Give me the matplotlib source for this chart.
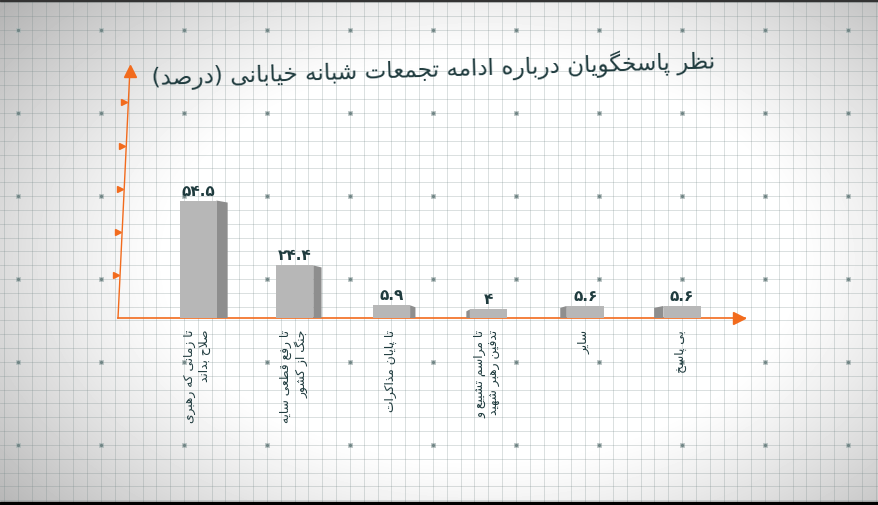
import numpy as np
import matplotlib
matplotlib.use('Agg')
import matplotlib.pyplot as plt
from matplotlib.patches import Polygon, Rectangle

plt.rcParams['font.family'] = ['DejaVu Sans']

title = 'نظر پاسخگویان درباره ادامه تجمعات شبانه خیابانی (درصد)'
categories = [
    'تا زمانی که رهبری\nصلاح بداند',
    'تا رفع قطعی سایه\nجنگ از کشور',
    'تا پایان مذاکرات',
    'تا مراسم تشییع و\nتدفین رهبر شهید',
    'سایر',
    'بی پاسخ',
]
values = [54.5, 24.4, 5.9, 4, 5.6, 5.6]
y_ticks = [20, 40, 60, 80, 100]

# --- simple persian shaping (matplotlib 3.10 has no rtl / joining) ---
FORMS = {
    'ء': (0xFE80, None, None, None),
    'آ': (0xFE81, 0xFE82, None, None),
    'ا': (0xFE8D, 0xFE8E, None, None),
    'ب': (0xFE8F, 0xFE90, 0xFE91, 0xFE92),
    'پ': (0xFB56, 0xFB57, 0xFB58, 0xFB59),
    'ت': (0xFE95, 0xFE96, 0xFE97, 0xFE98),
    'ث': (0xFE99, 0xFE9A, 0xFE9B, 0xFE9C),
    'ج': (0xFE9D, 0xFE9E, 0xFE9F, 0xFEA0),
    'چ': (0xFB7A, 0xFB7B, 0xFB7C, 0xFB7D),
    'ح': (0xFEA1, 0xFEA2, 0xFEA3, 0xFEA4),
    'خ': (0xFEA5, 0xFEA6, 0xFEA7, 0xFEA8),
    'د': (0xFEA9, 0xFEAA, None, None),
    'ذ': (0xFEAB, 0xFEAC, None, None),
    'ر': (0xFEAD, 0xFEAE, None, None),
    'ز': (0xFEAF, 0xFEB0, None, None),
    'ژ': (0xFB8A, 0xFB8B, None, None),
    'س': (0xFEB1, 0xFEB2, 0xFEB3, 0xFEB4),
    'ش': (0xFEB5, 0xFEB6, 0xFEB7, 0xFEB8),
    'ص': (0xFEB9, 0xFEBA, 0xFEBB, 0xFEBC),
    'ض': (0xFEBD, 0xFEBE, 0xFEBF, 0xFEC0),
    'ط': (0xFEC1, 0xFEC2, 0xFEC3, 0xFEC4),
    'ظ': (0xFEC5, 0xFEC6, 0xFEC7, 0xFEC8),
    'ع': (0xFEC9, 0xFECA, 0xFECB, 0xFECC),
    'غ': (0xFECD, 0xFECE, 0xFECF, 0xFED0),
    'ف': (0xFED1, 0xFED2, 0xFED3, 0xFED4),
    'ق': (0xFED5, 0xFED6, 0xFED7, 0xFED8),
    'ک': (0xFB8E, 0xFB8F, 0xFB90, 0xFB91),
    'گ': (0xFB92, 0xFB93, 0xFB94, 0xFB95),
    'ل': (0xFEDD, 0xFEDE, 0xFEDF, 0xFEE0),
    'م': (0xFEE1, 0xFEE2, 0xFEE3, 0xFEE4),
    'ن': (0xFEE5, 0xFEE6, 0xFEE7, 0xFEE8),
    'و': (0xFEED, 0xFEEE, None, None),
    'ه': (0xFEE9, 0xFEEA, 0xFEEB, 0xFEEC),
    'ی': (0xFBFC, 0xFBFD, 0xFBFE, 0xFBFF),
}
MIRROR = {'(': ')', ')': '('}


def shape_line(s):
    out = []
    i = 0
    n = len(s)
    while i < n:
        c = s[i]
        if c not in FORMS:
            out.append(MIRROR.get(c, c))
            i += 1
            continue
        prev = s[i - 1] if i > 0 else ''
        joins_prev = prev in FORMS and FORMS[prev][2] is not None
        if c == 'ل' and i + 1 < n and s[i + 1] == 'ا':
            out.append(chr(0xFEFC if joins_prev else 0xFEFB))
            i += 2
            continue
        nxt = s[i + 1] if i + 1 < n else ''
        joins_next = nxt in FORMS and FORMS[c][2] is not None
        iso, fin, ini, med = FORMS[c]
        if joins_prev and joins_next:
            code = med
        elif joins_prev:
            code = fin
        elif joins_next:
            code = ini
        else:
            code = iso
        out.append(chr(code))
        i += 1
    return ''.join(reversed(out))


def fa(s):
    return '\n'.join(shape_line(line) for line in s.split('\n'))


def fa_num(v):
    return f'{v:g}'.translate(str.maketrans('0123456789', '۰۱۲۳۴۵۶۷۸۹'))


W, H = 879, 505
fig = plt.figure(figsize=(W / 100, H / 100), dpi=100)

# background: vignette + grid paper
bg = fig.add_axes([0, 0, 1, 1])
bg.set_xlim(0, W)
bg.set_ylim(H, 0)
bg.axis('off')
xx, yy = np.meshgrid(np.arange(W), np.arange(H))
d = np.sqrt(((xx - 480) / 520.0) ** 2 + ((yy - 260) / 330.0) ** 2)
shade = 1 - 0.55 * np.clip(d - 0.6, 0, 1) ** 1.2
bg.imshow(shade, cmap='gray', vmin=0, vmax=1, extent=(0, W, H, 0),
          aspect='auto', zorder=0)
step = 83 / 6.0
for gx in np.arange(18 - 2 * step, W, step):
    bg.axvline(gx, color='#748686', lw=0.6, alpha=0.3, zorder=1)
for gy in np.arange(30 - 2 * step, H, step):
    bg.axhline(gy, color='#748686', lw=0.6, alpha=0.3, zorder=1)
mx, my = np.meshgrid(np.arange(18, W, 83), np.arange(30, H, 83))
bg.scatter(mx.ravel(), my.ravel(), s=10, marker='s', facecolor='none',
           edgecolor='#a8b4b4', lw=0.5, zorder=2)
bg.scatter(mx.ravel(), my.ravel(), s=2, color='#6f8484', zorder=2)
bg.add_patch(Rectangle((0, 502), W, 3, color='black', zorder=3))
bg.add_patch(Rectangle((0, 0), W, 1, color='#333333', zorder=3))

# chart area (pixel box: x 118..745, y 68..318)
x0_px, x1_px, base_px, top_px = 118, 745, 318, 68
ax = fig.add_axes([x0_px / W, (H - base_px) / H,
                   (x1_px - x0_px) / W, (base_px - top_px) / H])
ax.patch.set_alpha(0)
px_per_cat = 96.8
first_px = 198
ax.set_xlim((x0_px - first_px) / px_per_cat, (x1_px - first_px) / px_per_cat)
ax.set_ylim(0, 116)
ax.axis('off')

orange = '#f26b1d'
ink = '#1f3b3e'
px_x = 1 / px_per_cat
px_y = 116 / (base_px - top_px)

# axes lines (y axis slightly tilted, as in the picture)
tilt = 12 / (x1_px - x0_px)
ax.plot([0, 1], [0, 0], transform=ax.transAxes, color=orange, lw=1.2,
        clip_on=False, zorder=3)
ax.plot([0, tilt], [0, 1], transform=ax.transAxes, color=orange, lw=1.0,
        clip_on=False, zorder=3)
ax.plot([0.99], [0], marker='>', ms=9, color=orange, transform=ax.transAxes,
        clip_on=False, zorder=4)
ax.plot([tilt], [0.99], marker='^', ms=9, color=orange,
        transform=ax.transAxes, clip_on=False, zorder=4)
for t in y_ticks:
    fy = t / 116
    ax.plot([tilt * fy - 4 / (x1_px - x0_px)], [fy], marker='>', ms=5,
            color=orange, transform=ax.transAxes, clip_on=False, zorder=4)

# bars with a side face for a 3d look
xs = np.arange(len(values))
bar_w = 37 * px_x
ax.bar(xs, values, width=bar_w, color='#b7b7b7', zorder=5)
centre_px = 470
for x, v in zip(xs, values):
    xc = first_px + x * px_per_cat
    depth = (0.03 * abs(xc - centre_px) + 3) * px_x
    drop = 2 * px_y
    if xc < centre_px:
        e = x + bar_w / 2
        pts = [(e, 0), (e, v), (e + depth, v - drop), (e + depth, 0)]
    else:
        e = x - bar_w / 2
        pts = [(e, 0), (e, v), (e - depth, v - drop), (e - depth, 0)]
    ax.add_patch(Polygon(pts, closed=True, color='#8e8e8e', zorder=4,
                         lw=0))
    ax.text(x, v + 2 * px_y, fa_num(v), ha='center', va='bottom',
            fontsize=11, fontweight='bold', color=ink, zorder=6)
    ax.text(x - 1 * px_x, -12 * px_y, fa(categories[x]), rotation=90,
            ha='center', va='top', multialignment='right', fontsize=8.8,
            color=ink, linespacing=1.2, clip_on=False, zorder=6)

fig.text(715 / W, (H - 61) / H, fa(title), ha='right', va='center',
         fontsize=16.7, color=ink, rotation=1.7, rotation_mode='anchor')

fig.savefig('out.png', dpi=100)
